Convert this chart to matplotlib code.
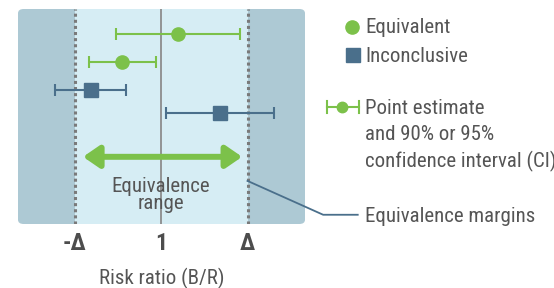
import matplotlib.pyplot as plt
from matplotlib.patches import FancyBboxPatch, FancyArrowPatch
from matplotlib.lines import Line2D

plt.rcParams['font.family'] = ['Roboto Condensed', 'DejaVu Sans']

# data (risk ratio, -delta=0.8, delta=1.2)
lower_margin = 0.8
upper_margin = 1.2
rows = [0, 1, 2, 2.82]
estimates = [1.039, 0.910, 0.838, 1.136]
ci_low = [0.896, 0.834, 0.755, 1.012]
ci_high = [1.183, 0.988, 0.919, 1.261]
status = ["Equivalent", "Equivalent", "Inconclusive", "Inconclusive"]
tick_pos = [lower_margin, 1.0, upper_margin]
tick_labels = ["-Δ", "1", "Δ"]

green = "#7cc14a"
blue = "#4a6f8b"
text_col = "#555555"

fig = plt.figure(figsize=(5.54, 2.88), dpi=100)
ax = fig.add_axes([18 / 554, 64 / 288, 287 / 554, 215 / 288])
ax.set_xlim(0.669, 1.333)
ax.set_ylim(6.79, -0.89)

bg = FancyBboxPatch((0, 0), 1, 1, boxstyle="round,pad=0,rounding_size=0.02",
                    transform=ax.transAxes, facecolor="#adc9d4", edgecolor="none", zorder=0)
ax.add_patch(bg)
ax.axvspan(lower_margin, upper_margin, color="#d6edf4", zorder=1, lw=0)
for m in (lower_margin, upper_margin):
    ax.axvline(m, color="#7a7a7a", lw=2.2, ls=(0, (1, 1)), zorder=2)
ax.axvline(1.0, color="#8c8c8c", lw=1.3, zorder=2)

for y, est, lo, hi, s in zip(rows, estimates, ci_low, ci_high, status):
    c = green if s == "Equivalent" else blue
    mk = "o" if s == "Equivalent" else "s"
    ms = 9.5 if s == "Equivalent" else 10
    ax.errorbar([est], [y], xerr=[[est - lo], [hi - est]], fmt=mk, color=c,
                ms=ms, elinewidth=1.5, capsize=4.5, capthick=1.5, zorder=5)

arrow = FancyArrowPatch((0.813, 4.39), (1.194, 4.39),
                        arrowstyle="<|-|>,head_length=0.8,head_width=0.55",
                        mutation_scale=12, color=green, lw=4.3, zorder=4)
ax.add_patch(arrow)
ax.text(1.0, 5.75, "Equivalence\nrange", ha="center", va="center", fontsize=15,
        color=text_col, linespacing=0.88, zorder=4)

# connector to margin label
ax.plot([upper_margin, 1.375, 1.455], [5.25, 6.46, 6.46], color=blue, lw=1.3,
        clip_on=False, zorder=6)

ax.set_xticks(tick_pos)
ax.set_xticklabels(tick_labels, fontsize=17, fontweight="bold", color="#4d4d4d")
ax.tick_params(axis="x", length=0, pad=6)
ax.set_yticks([])
for sp in ax.spines.values():
    sp.set_visible(False)
ax.set_xlabel("Risk ratio (B/R)", fontsize=15, color=text_col, labelpad=9)

# legend
fig.add_artist(Line2D([352 / 554], [1 - 27 / 288], marker="o", ms=9.5, color=green,
                      transform=fig.transFigure))
fig.add_artist(Line2D([353 / 554], [1 - 55 / 288], marker="s", ms=10, color=blue,
                      transform=fig.transFigure))
fig.add_artist(Line2D([327 / 554, 359 / 554], [1 - 107 / 288] * 2, color=green, lw=1.5,
                      transform=fig.transFigure))
fig.add_artist(Line2D([342 / 554], [1 - 107 / 288], marker="o", ms=7.5, color=green,
                      transform=fig.transFigure))
for xx in (327, 359):
    fig.add_artist(Line2D([xx / 554] * 2, [1 - 101 / 288, 1 - 113 / 288], color=green,
                          lw=1.5, transform=fig.transFigure))

legend_texts = ["Equivalent", "Inconclusive", "Point estimate", "and 90% or 95%",
                "confidence interval (CI)", "Equivalence margins"]
baselines = [33, 62, 114, 140, 167, 222]
for t, b in zip(legend_texts, baselines):
    fig.text(365 / 554, 1 - b / 288, t, fontsize=15, color=text_col, va="baseline")

fig.savefig("out.png", dpi=100)
